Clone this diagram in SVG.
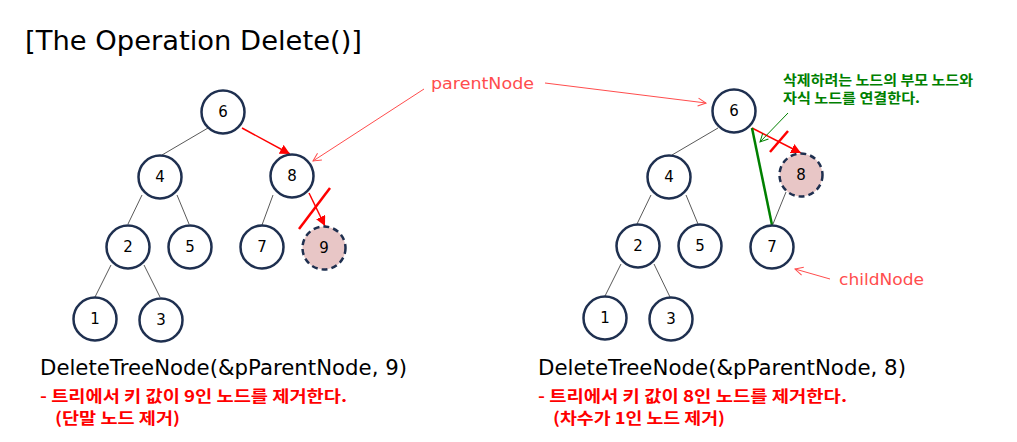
<svg xmlns="http://www.w3.org/2000/svg" width="1017" height="442" viewBox="0 0 1017 442">
<style>
.node circle{fill:#fff;stroke:#1f3050;stroke-width:2.5}
.node.del circle{fill:#e8c6c6;stroke-dasharray:6 4}
.node text{font-family:"DejaVu Sans","Liberation Sans",sans-serif;font-size:15px;fill:#000;text-anchor:middle}
.edge{stroke:#595959;stroke-width:1}
.red{stroke:#ff0000;stroke-width:1.5}
.cross{stroke:#ff0000;stroke-width:2.5}
.green{stroke:#008000;stroke-width:2.5}
.ptr{stroke:#ff4d4d;stroke-width:1}
.gptr{stroke:#008000;stroke-width:1}
.title{font-family:"DejaVu Sans","Liberation Sans",sans-serif;font-size:26px;fill:#000}
.call{font-family:"DejaVu Sans","Liberation Sans",sans-serif;font-size:21px;fill:#000}
.note{font-family:"Noto Sans CJK KR","Noto Sans",sans-serif;font-size:16px;font-weight:bold;fill:#ff0000}
.gnote{font-family:"Noto Sans CJK KR","Noto Sans",sans-serif;font-size:14px;font-weight:bold;fill:#008000}
.lbl{font-family:"DejaVu Sans","Liberation Sans",sans-serif;font-size:16px;fill:#ff4d4d}
</style>
<defs>
<marker id="ar" markerUnits="userSpaceOnUse" markerWidth="12" markerHeight="10" refX="10" refY="5" orient="auto"><path d="M0,0 L10,5 L0,10 z" fill="#ff0000"/></marker>
<marker id="ap" markerUnits="userSpaceOnUse" markerWidth="12" markerHeight="12" refX="9" refY="5" orient="auto"><path d="M1,1 L9,5 L1,9" fill="none" stroke="#ff4d4d" stroke-width="1"/></marker>
<marker id="ag" markerUnits="userSpaceOnUse" markerWidth="12" markerHeight="12" refX="9" refY="5" orient="auto"><path d="M1,1 L9,5 L1,9" fill="none" stroke="#008000" stroke-width="1"/></marker>
</defs>
<rect width="1017" height="442" fill="#fff"/>
<text class="title" x="25" y="50" textLength="337" lengthAdjust="spacingAndGlyphs">[The Operation Delete()]</text>

<g id="connectors" fill="none">
<!-- left tree -->
<line class="edge" x1="208" y1="128" x2="162" y2="155"/>
<line class="red" x1="242" y1="128" x2="290" y2="154" marker-end="url(#ar)"/>
<line class="edge" x1="142" y1="195" x2="128" y2="224"/>
<line class="edge" x1="177" y1="195" x2="189" y2="224"/>
<line class="edge" x1="273" y1="195" x2="262" y2="225"/>
<line class="red" x1="309" y1="193" x2="325" y2="226" marker-end="url(#ar)"/>
<line class="edge" x1="111" y1="265" x2="95" y2="297"/>
<line class="edge" x1="144" y1="265" x2="160" y2="297"/>
<line class="cross" x1="330" y1="188" x2="299" y2="229"/>
<!-- right tree -->
<line class="edge" x1="718" y1="128" x2="672" y2="155"/>
<line class="red" x1="752" y1="128" x2="801" y2="153" marker-end="url(#ar)"/>
<line class="cross" x1="788" y1="131" x2="770" y2="152"/>
<line class="green" x1="752" y1="128" x2="772" y2="225"/>
<line class="edge" x1="786" y1="192" x2="773" y2="224"/>
<line class="edge" x1="651" y1="195" x2="637" y2="224"/>
<line class="edge" x1="686" y1="195" x2="698" y2="224"/>
<line class="edge" x1="621" y1="264" x2="605" y2="296"/>
<line class="edge" x1="654" y1="264" x2="670" y2="297"/>
<!-- pointers -->
<line class="ptr" x1="424" y1="89" x2="313" y2="161" marker-end="url(#ap)"/>
<line class="ptr" x1="545" y1="83" x2="706" y2="103" marker-end="url(#ap)"/>
<line class="ptr" x1="830" y1="279" x2="795" y2="269" marker-end="url(#ap)"/>
<line class="gptr" x1="788" y1="113" x2="760" y2="142" marker-end="url(#ag)"/>
</g>

<g id="L6" class="node"><circle cx="223" cy="112" r="21.5"/><text x="223" y="117">6</text></g>
<g id="L4" class="node"><circle cx="160" cy="177" r="21.5"/><text x="160" y="182">4</text></g>
<g id="L8" class="node"><circle cx="292" cy="176" r="21.5"/><text x="292" y="181">8</text></g>
<g id="L2" class="node"><circle cx="128" cy="247" r="21.5"/><text x="128" y="252">2</text></g>
<g id="L5" class="node"><circle cx="190" cy="247" r="21.5"/><text x="190" y="252">5</text></g>
<g id="L7" class="node"><circle cx="262" cy="247" r="21.5"/><text x="262" y="252">7</text></g>
<g id="L9" class="node del"><circle cx="324" cy="248" r="21.5"/><text x="324" y="253">9</text></g>
<g id="L1" class="node"><circle cx="95" cy="319" r="21.5"/><text x="95" y="324">1</text></g>
<g id="L3" class="node"><circle cx="161" cy="320" r="21.5"/><text x="161" y="325">3</text></g>

<g id="R6" class="node"><circle cx="734" cy="111" r="21.5"/><text x="734" y="116">6</text></g>
<g id="R4" class="node"><circle cx="669" cy="177" r="21.5"/><text x="669" y="182">4</text></g>
<g id="R8" class="node del"><circle cx="801" cy="175" r="21.5"/><text x="801" y="180">8</text></g>
<g id="R2" class="node"><circle cx="638" cy="246" r="21.5"/><text x="638" y="251">2</text></g>
<g id="R5" class="node"><circle cx="700" cy="246" r="21.5"/><text x="700" y="251">5</text></g>
<g id="R7" class="node"><circle cx="772" cy="247" r="21.5"/><text x="772" y="252">7</text></g>
<g id="R1" class="node"><circle cx="605" cy="318" r="21.5"/><text x="605" y="323">1</text></g>
<g id="R3" class="node"><circle cx="671" cy="319" r="21.5"/><text x="671" y="324">3</text></g>

<g id="labels">
<text class="lbl" x="431" y="89" textLength="103" lengthAdjust="spacingAndGlyphs">parentNode</text>
<text class="lbl" x="839" y="285" textLength="85" lengthAdjust="spacingAndGlyphs">childNode</text>
<text class="gnote" x="783" y="85" textLength="190" lengthAdjust="spacingAndGlyphs">삭제하려는 노드의 부모 노드와</text>
<text class="gnote" x="783" y="103" textLength="137" lengthAdjust="spacingAndGlyphs">자식 노드를 연결한다.</text>
<text class="call" x="40" y="375" textLength="367" lengthAdjust="spacingAndGlyphs">DeleteTreeNode(&amp;pParentNode, 9)</text>
<text class="note" x="40" y="402" textLength="307" lengthAdjust="spacingAndGlyphs">- 트리에서 키 값이 9인 노드를 제거한다.</text>
<text class="note" x="55" y="424" textLength="125" lengthAdjust="spacingAndGlyphs">(단말 노드 제거)</text>
<text class="call" x="538" y="375" textLength="368" lengthAdjust="spacingAndGlyphs">DeleteTreeNode(&amp;pParentNode, 8)</text>
<text class="note" x="538" y="402" textLength="309" lengthAdjust="spacingAndGlyphs">- 트리에서 키 값이 8인 노드를 제거한다.</text>
<text class="note" x="553" y="424" textLength="172" lengthAdjust="spacingAndGlyphs">(차수가 1인 노드 제거)</text>
</g>
</svg>
